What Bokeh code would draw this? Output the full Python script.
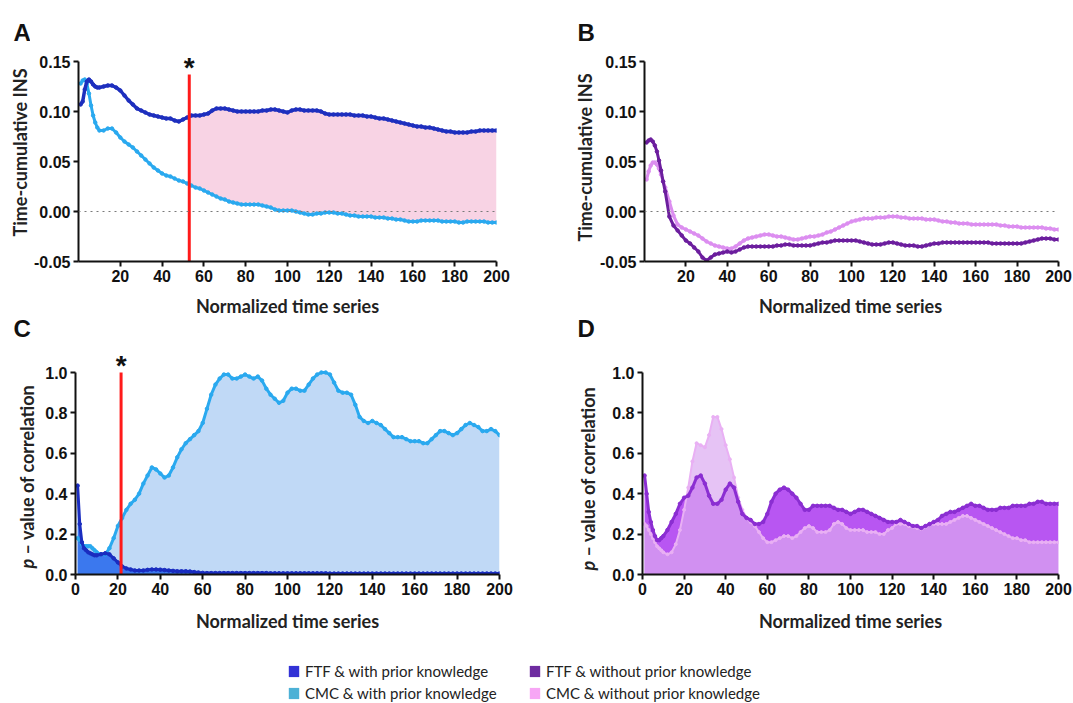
import numpy as np
from bokeh.plotting import figure
from bokeh.layouts import column, row
from bokeh.models import (Range1d, FixedTicker, PrintfTickFormatter, Span, Label,
                          Legend, LegendItem)
from bokeh.embed import file_html
from bokeh.resources import INLINE

# ---------------- data ----------------
t = list(range(1, 11)) + list(range(12, 201, 2))

# Panel A: time-cumulative INS, with prior knowledge
ftf_with_ins = [
    0.107, 0.110, 0.122, 0.130, 0.132, 0.130, 0.127, 0.125, 0.124, 0.124,
    0.125, 0.126, 0.126, 0.124, 0.121, 0.116, 0.111, 0.107, 0.103, 0.101,
    0.099, 0.097, 0.096, 0.095, 0.094, 0.093, 0.093, 0.091, 0.090, 0.092,
    0.094, 0.096, 0.096, 0.096, 0.097, 0.098, 0.101, 0.103, 0.103, 0.103,
    0.102, 0.101, 0.100, 0.100, 0.100, 0.100, 0.100, 0.100, 0.101, 0.101,
    0.102, 0.102, 0.101, 0.100, 0.099, 0.101, 0.102, 0.102, 0.101, 0.101,
    0.101, 0.101, 0.100, 0.098, 0.097, 0.097, 0.097, 0.097, 0.097, 0.097,
    0.096, 0.096, 0.096, 0.095, 0.095, 0.094, 0.093, 0.093, 0.092, 0.091,
    0.090, 0.089, 0.088, 0.087, 0.086, 0.085, 0.085, 0.084, 0.084, 0.083,
    0.082, 0.081, 0.080, 0.080, 0.079, 0.079, 0.079, 0.079, 0.080, 0.080,
    0.081, 0.081, 0.081, 0.081, 0.081]
cmc_with_ins = [
    0.128, 0.131, 0.132, 0.128, 0.118, 0.106, 0.096, 0.089, 0.084, 0.081,
    0.081, 0.083, 0.083, 0.079, 0.074, 0.070, 0.067, 0.064, 0.060, 0.056,
    0.052, 0.048, 0.044, 0.041, 0.038, 0.036, 0.035, 0.033, 0.031, 0.030,
    0.028, 0.026, 0.024, 0.023, 0.021, 0.019, 0.017, 0.015, 0.013, 0.012,
    0.010, 0.009, 0.008, 0.007, 0.007, 0.007, 0.007, 0.007, 0.006, 0.005,
    0.004, 0.002, 0.001, 0.001, 0.001, 0.001, 0.000, -0.001, -0.002, -0.003,
    -0.003, -0.002, -0.002, -0.001, -0.001, -0.001, -0.002, -0.002, -0.003, -0.004,
    -0.004, -0.005, -0.005, -0.005, -0.005, -0.006, -0.006, -0.006, -0.007, -0.007,
    -0.008, -0.008, -0.009, -0.010, -0.010, -0.010, -0.009, -0.009, -0.009, -0.009,
    -0.009, -0.010, -0.010, -0.010, -0.010, -0.011, -0.011, -0.010, -0.010, -0.010,
    -0.010, -0.010, -0.011, -0.011, -0.011]

# Panel B: time-cumulative INS, without prior knowledge
ftf_wo_ins = [
    0.069, 0.071, 0.072, 0.070, 0.066, 0.060, 0.051, 0.041, 0.030, 0.020,
    -0.005, -0.014, -0.019, -0.024, -0.029, -0.032, -0.036, -0.040, -0.046, -0.049,
    -0.046, -0.043, -0.042, -0.041, -0.040, -0.041, -0.040, -0.038, -0.036, -0.035,
    -0.035, -0.035, -0.035, -0.035, -0.035, -0.035, -0.034, -0.034, -0.033, -0.033,
    -0.034, -0.034, -0.034, -0.034, -0.034, -0.033, -0.032, -0.031, -0.031, -0.030,
    -0.029, -0.029, -0.029, -0.029, -0.029, -0.029, -0.030, -0.031, -0.032, -0.033,
    -0.033, -0.033, -0.032, -0.031, -0.031, -0.032, -0.033, -0.034, -0.034, -0.034,
    -0.035, -0.035, -0.034, -0.033, -0.032, -0.032, -0.031, -0.031, -0.031, -0.031,
    -0.031, -0.031, -0.031, -0.031, -0.031, -0.031, -0.031, -0.031, -0.032, -0.032,
    -0.032, -0.032, -0.032, -0.032, -0.032, -0.032, -0.031, -0.030, -0.029, -0.028,
    -0.027, -0.027, -0.027, -0.028, -0.028]
cmc_wo_ins = [
    0.032, 0.040, 0.046, 0.049, 0.049, 0.047, 0.043, 0.037, 0.030, 0.024,
    0.010, -0.004, -0.013, -0.016, -0.018, -0.020, -0.022, -0.024, -0.027, -0.030,
    -0.032, -0.034, -0.035, -0.036, -0.037, -0.037, -0.035, -0.032, -0.029, -0.027,
    -0.026, -0.025, -0.024, -0.023, -0.023, -0.024, -0.025, -0.025, -0.026, -0.027,
    -0.028, -0.028, -0.027, -0.026, -0.025, -0.025, -0.024, -0.023, -0.021, -0.020,
    -0.018, -0.016, -0.014, -0.012, -0.010, -0.009, -0.008, -0.007, -0.007, -0.007,
    -0.006, -0.006, -0.006, -0.005, -0.005, -0.005, -0.006, -0.006, -0.007, -0.007,
    -0.007, -0.007, -0.008, -0.008, -0.008, -0.009, -0.010, -0.010, -0.011, -0.011,
    -0.012, -0.012, -0.012, -0.013, -0.013, -0.013, -0.013, -0.013, -0.013, -0.013,
    -0.014, -0.014, -0.015, -0.015, -0.015, -0.016, -0.016, -0.016, -0.016, -0.016,
    -0.016, -0.017, -0.017, -0.018, -0.018]

# Panel C: p-value of correlation, with prior knowledge
cmc_with_p = [
    0.18, 0.17, 0.15, 0.14, 0.14, 0.14, 0.14, 0.13, 0.12, 0.11,
    0.10, 0.10, 0.13, 0.18, 0.24, 0.28, 0.32, 0.35, 0.37, 0.40,
    0.45, 0.49, 0.53, 0.52, 0.50, 0.48, 0.49, 0.53, 0.58, 0.62,
    0.65, 0.67, 0.69, 0.71, 0.75, 0.82, 0.89, 0.94, 0.97, 0.99,
    0.99, 0.97, 0.97, 0.98, 0.99, 0.98, 0.97, 0.98, 0.96, 0.92,
    0.89, 0.87, 0.85, 0.86, 0.90, 0.92, 0.92, 0.91, 0.91, 0.94,
    0.97, 0.99, 1.00, 1.00, 0.99, 0.95, 0.91, 0.90, 0.90, 0.89,
    0.84, 0.78, 0.76, 0.75, 0.76, 0.75, 0.74, 0.72, 0.70, 0.68,
    0.68, 0.68, 0.67, 0.66, 0.66, 0.66, 0.65, 0.65, 0.67, 0.69,
    0.71, 0.71, 0.70, 0.69, 0.70, 0.72, 0.74, 0.75, 0.74, 0.73,
    0.71, 0.71, 0.72, 0.71, 0.69]
ftf_with_p = [
    0.44, 0.25, 0.16, 0.13, 0.12, 0.11, 0.105, 0.10, 0.095, 0.095,
    0.10, 0.105, 0.10, 0.08, 0.06, 0.04, 0.03, 0.025, 0.02, 0.02,
    0.02, 0.023, 0.025, 0.025, 0.024, 0.022, 0.02, 0.018, 0.016, 0.016,
    0.016, 0.015, 0.012, 0.010, 0.008, 0.007, 0.007, 0.007, 0.007, 0.007,
    0.007, 0.007, 0.007, 0.007, 0.007, 0.007, 0.007, 0.007, 0.007, 0.007,
    0.006, 0.006, 0.006, 0.006, 0.006, 0.006, 0.006, 0.006, 0.006, 0.006,
    0.006, 0.006, 0.006, 0.006, 0.005, 0.005, 0.005, 0.005, 0.005, 0.005,
    0.005, 0.005, 0.005, 0.005, 0.005, 0.005, 0.005, 0.005, 0.005, 0.005,
    0.005, 0.005, 0.005, 0.005, 0.005, 0.005, 0.005, 0.005, 0.005, 0.005,
    0.005, 0.005, 0.005, 0.005, 0.005, 0.005, 0.005, 0.005, 0.005, 0.005,
    0.005, 0.005, 0.005, 0.005, 0.005]

# Panel D: p-value of correlation, without prior knowledge
ftf_wo_p = [
    0.49, 0.40, 0.31, 0.26, 0.22, 0.19, 0.17, 0.17, 0.18, 0.19,
    0.22, 0.26, 0.30, 0.35, 0.38, 0.39, 0.43, 0.48, 0.49, 0.45,
    0.39, 0.35, 0.35, 0.37, 0.42, 0.45, 0.43, 0.36, 0.30, 0.28,
    0.27, 0.25, 0.25, 0.26, 0.30, 0.36, 0.40, 0.42, 0.43, 0.42,
    0.40, 0.38, 0.35, 0.32, 0.32, 0.34, 0.34, 0.34, 0.34, 0.34,
    0.33, 0.32, 0.32, 0.31, 0.30, 0.31, 0.32, 0.32, 0.31, 0.30,
    0.29, 0.28, 0.27, 0.26, 0.26, 0.26, 0.27, 0.26, 0.25, 0.24,
    0.24, 0.23, 0.24, 0.25, 0.26, 0.27, 0.29, 0.30, 0.31, 0.31,
    0.32, 0.33, 0.34, 0.35, 0.34, 0.34, 0.33, 0.32, 0.32, 0.32,
    0.33, 0.33, 0.33, 0.34, 0.34, 0.34, 0.34, 0.35, 0.35, 0.36,
    0.36, 0.35, 0.35, 0.35, 0.35]
cmc_wo_p = [
    0.25, 0.24, 0.22, 0.20, 0.18, 0.16, 0.14, 0.13, 0.12, 0.11,
    0.10, 0.11, 0.15, 0.22, 0.32, 0.43, 0.56, 0.65, 0.64, 0.63,
    0.69, 0.78, 0.78, 0.72, 0.64, 0.57, 0.48, 0.38, 0.32, 0.28,
    0.26, 0.24, 0.21, 0.18, 0.16, 0.16, 0.17, 0.18, 0.19, 0.19,
    0.18, 0.19, 0.21, 0.23, 0.24, 0.23, 0.21, 0.21, 0.21, 0.22,
    0.25, 0.26, 0.25, 0.23, 0.22, 0.22, 0.22, 0.22, 0.21, 0.21,
    0.21, 0.20, 0.20, 0.22, 0.23, 0.25, 0.25, 0.25, 0.24, 0.235,
    0.23, 0.225, 0.235, 0.25, 0.25, 0.25, 0.25, 0.25, 0.26, 0.27,
    0.28, 0.29, 0.29, 0.28, 0.27, 0.26, 0.25, 0.24, 0.23, 0.22,
    0.21, 0.20, 0.19, 0.18, 0.18, 0.17, 0.17, 0.16, 0.16, 0.16,
    0.16, 0.16, 0.16, 0.16, 0.16]

sig_a = 53        # first significant time point (panel A)
sig_a_top = 0.137
sig_c = 21.5      # first significant time point (panel C)
sig_c_top = 1.0

ins_ticks = [-0.05, 0.0, 0.05, 0.10, 0.15]
p_ticks = [0.0, 0.2, 0.4, 0.6, 0.8, 1.0]
x_ticks_ab = [20, 40, 60, 80, 100, 120, 140, 160, 180, 200]
x_ticks_cd = [0, 20, 40, 60, 80, 100, 120, 140, 160, 180, 200]

x_title = "Normalized time series"
ins_title = "Time-cumulative INS"
p_title_rest = "\u2013 value of correlation"

legend_labels = ["FTF & with prior knowledge", "CMC & with prior knowledge",
                 "FTF & without prior knowledge", "CMC & without prior knowledge"]
legend_colors = ["#3232D6", "#4CB1D6", "#6E2CA0", "#F7A6F5"]

# ---------------- styling ----------------
TICK_FONT = "Liberation Sans"
TITLE_FONT = "Lato"
INK = "#111111"
TITLE_INK = "#222222"

ROW1_H = 292
ROW2_H = 645 - ROW1_H
LEG_H = 703 - 645


def make_fig(width, height, bl, br, bt, bb, yr, xticks, yticks, yfmt, ybounds, xlabel):
    p = figure(width=width, height=height, x_range=Range1d(0, 200), y_range=Range1d(*yr),
               min_border_left=bl, min_border_right=br, min_border_top=bt,
               min_border_bottom=bb, output_backend="svg", toolbar_location=None, title=None)
    p.outline_line_color = None
    p.xgrid.visible = False
    p.ygrid.visible = False
    for ax in (p.xaxis[0], p.yaxis[0]):
        ax.axis_line_width = 2
        ax.axis_line_color = INK
        ax.major_tick_line_width = 2
        ax.major_tick_line_color = INK
        ax.major_tick_in = 0
        ax.major_tick_out = 5
        ax.minor_tick_line_color = None
        ax.major_label_text_font = TICK_FONT
        ax.major_label_text_font_style = "bold"
        ax.major_label_text_font_size = "16px"
        ax.major_label_text_color = INK
        ax.major_label_standoff = 3
    p.xaxis[0].ticker = FixedTicker(ticks=xticks)
    p.yaxis[0].ticker = FixedTicker(ticks=yticks)
    p.yaxis[0].formatter = PrintfTickFormatter(format=yfmt)
    p.yaxis[0].bounds = ybounds
    if xlabel:
        p.xaxis[0].axis_label = xlabel
        p.xaxis[0].axis_label_text_font = TITLE_FONT
        p.xaxis[0].axis_label_text_font_style = "bold"
        p.xaxis[0].axis_label_text_font_size = "18px"
        p.xaxis[0].axis_label_text_color = TITLE_INK
        p.xaxis[0].axis_label_standoff = 12
    return p


def strip(width, height):
    s = figure(width=width, height=height, x_range=Range1d(0, 1), y_range=Range1d(0, 1),
               x_axis_location=None, y_axis_location=None, min_border=0,
               output_backend="svg", toolbar_location=None, title=None)
    s.outline_line_color = None
    s.grid.visible = False
    return s


def txt(p, text, x, y, size, style="bold", font=TICK_FONT, angle=0.0,
        align="left", baseline="alphabetic", xu="screen", yu="screen", color=INK):
    p.add_layout(Label(x=x, y=y, x_units=xu, y_units=yu, text=text, angle=angle,
                       text_font=font, text_font_size=size, text_font_style=style,
                       text_align=align, text_baseline=baseline, text_color=color))


# Row 1 frames span y 0..261 (0.15 at y=61, -0.05 at y=261), 1000 px per unit
ins_top = -0.05 + 261 / 1000.0
# Row 2 frames span y 292..574 (1.0 at y=372, 0 at y=574), 202 px per unit
p_top = (574 - ROW1_H) / 202.0

# ---------------- panel A ----------------
sA = strip(30, ROW1_H)
txt(sA, "A", 13, 229, "24px")
txt(sA, ins_title, 19, 109, "18px", font=TITLE_FONT, angle=np.pi / 2,
    align="center", baseline="middle", color=TITLE_INK)

pA = make_fig(532, ROW1_H, 48, 66, 0, ROW1_H - 261, (-0.05, ins_top), x_ticks_ab, ins_ticks,
              "%.2f", (-0.05, 0.15), None)
t_arr = np.array(t, dtype=float)
fa_x = [sig_a] + [v for v in t if v > sig_a]
fa_lo = [float(np.interp(sig_a, t_arr, cmc_with_ins))] + [c for v, c in zip(t, cmc_with_ins) if v > sig_a]
fa_hi = [float(np.interp(sig_a, t_arr, ftf_with_ins))] + [f for v, f in zip(t, ftf_with_ins) if v > sig_a]
pA.varea(x=fa_x, y1=fa_lo, y2=fa_hi, fill_color="#F8D3E4")
pA.add_layout(Span(location=0, dimension="width", line_color="#7A7A7A", line_dash="dotted", line_width=1.2))
pA.line(t, cmc_with_ins, line_color="#2AA9EF", line_width=3)
pA.scatter(t, cmc_with_ins, size=3.5, color="#2AA9EF")
pA.line(t, ftf_with_ins, line_color="#1E2FBE", line_width=3.5)
pA.scatter(t, ftf_with_ins, size=3.5, color="#1E2FBE")
pA.segment(x0=[sig_a], y0=[ins_ticks[0]], x1=[sig_a], y1=[sig_a_top], line_color="#FF1A1A", line_width=3)
txt(pA, "*", sig_a, 194, "28px", align="center", xu="data")

# ---------------- panel B ----------------
sB = strip(35, ROW1_H)
txt(sB, "B", 15, 229, "24px")
txt(sB, ins_title, 22, 104, "18px", font=TITLE_FONT, angle=np.pi / 2,
    align="center", baseline="middle", color=TITLE_INK)

pB = make_fig(476, ROW1_H, 44, 15, 0, ROW1_H - 261, (-0.05, ins_top), x_ticks_ab, ins_ticks,
              "%.2f", (-0.05, 0.15), None)
pB.add_layout(Span(location=0, dimension="width", line_color="#7A7A7A", line_dash="dotted", line_width=1.2))
pB.line(t, cmc_wo_ins, line_color="#DC8EF0", line_width=3)
pB.scatter(t, cmc_wo_ins, size=3.5, color="#DC8EF0")
pB.line(t, ftf_wo_ins, line_color="#6C1E9E", line_width=3)
pB.scatter(t, ftf_wo_ins, size=3.5, color="#6C1E9E")

# ---------------- panel C ----------------
sC = strip(40, ROW2_H)
txt(sC, "C", 13, 574 - 328, "24px")
txt(sC, "p", 26, 6, "18px", style="bold italic", font=TITLE_FONT, angle=np.pi / 2,
    align="left", baseline="middle", color=TITLE_INK)
txt(sC, p_title_rest, 26, 20, "18px", font=TITLE_FONT, angle=np.pi / 2,
    align="left", baseline="middle", color=TITLE_INK)

pC = make_fig(522, ROW2_H, 35, 63, 0, 71, (0, p_top), x_ticks_cd, p_ticks, "%.1f", (0, 1.0), x_title)
pC.varea(x=t, y1=[0] * len(t), y2=cmc_with_p, fill_color="#C0D9F6")
pC.varea(x=t, y1=[0] * len(t), y2=ftf_with_p, fill_color="#3B78EE")
pC.line(t, cmc_with_p, line_color="#2AA9EF", line_width=3)
pC.scatter(t, cmc_with_p, size=3.5, color="#2AA9EF")
pC.line(t, ftf_with_p, line_color="#1A2DC0", line_width=3)
pC.scatter(t, ftf_with_p, size=3.5, color="#1A2DC0")
pC.segment(x0=[sig_c], y0=[p_ticks[0]], x1=[sig_c], y1=[sig_c_top], line_color="#FF1A1A", line_width=3)
txt(pC, "*", sig_c, 209, "28px", align="center", xu="data")
# x-axis title of panel A sits just above this frame
txt(pC, x_title, 287 - 75, 574 - 305, "18px", font=TITLE_FONT, align="center",
    baseline="middle", color=TITLE_INK)

# ---------------- panel D ----------------
sD = strip(38, ROW2_H)
txt(sD, "D", 15, 574 - 328, "24px")
txt(sD, "p", 25, 4, "18px", style="bold italic", font=TITLE_FONT, angle=np.pi / 2,
    align="left", baseline="middle", color=TITLE_INK)
txt(sD, p_title_rest, 25, 18, "18px", font=TITLE_FONT, angle=np.pi / 2,
    align="left", baseline="middle", color=TITLE_INK)

pD = make_fig(473, ROW2_H, 42, 15, 0, 71, (0, p_top), x_ticks_cd, p_ticks, "%.1f", (0, 1.0), x_title)
pD.varea(x=t, y1=[0] * len(t), y2=ftf_wo_p, fill_color="#B856F2")
pD.varea(x=t, y1=[0] * len(t), y2=cmc_wo_p, fill_color="#DBA9F1", fill_alpha=0.7)
pD.line(t, cmc_wo_p, line_color="#E9B0F4", line_width=2)
pD.scatter(t, cmc_wo_p, size=3, color="#E9B0F4")
pD.line(t, ftf_wo_p, line_color="#8B2ED2", line_width=3)
pD.scatter(t, ftf_wo_p, size=3.5, color="#8B2ED2")
# x-axis title of panel B sits just above this frame
txt(pD, x_title, 850 - 642, 574 - 305, "18px", font=TITLE_FONT, align="center",
    baseline="middle", color=TITLE_INK)

# ---------------- legend ----------------
pL = figure(width=1073, height=LEG_H, x_range=Range1d(0, 1), y_range=Range1d(0, 1),
            x_axis_location=None, y_axis_location=None, min_border=0,
            output_backend="svg", toolbar_location=None, title=None)
pL.outline_line_color = None
pL.grid.visible = False
nan = float("nan")
rs = [pL.quad(left=[nan], right=[nan], top=[nan], bottom=[nan], fill_color=c, line_color=None)
      for c in legend_colors]


def make_legend(idx, loc):
    lg = Legend(items=[LegendItem(label=legend_labels[i], renderers=[rs[i]]) for i in idx],
                location=loc, orientation="vertical")
    lg.padding = 0
    lg.margin = 0
    lg.spacing = 2
    lg.glyph_width = 13
    lg.glyph_height = 14
    lg.label_standoff = 5
    lg.label_height = 20
    lg.label_text_font = TITLE_FONT
    lg.label_text_font_size = "15px"
    lg.label_text_color = TITLE_INK
    lg.border_line_color = None
    lg.background_fill_alpha = 0
    return lg


pL.add_layout(make_legend([0, 1], (287, 0)))
pL.add_layout(make_legend([2, 3], (528, 0)))

layout = column(row(sA, pA, sB, pB), row(sC, pC, sD, pD), pL)
open("out.html", "w").write(file_html(layout, INLINE))
